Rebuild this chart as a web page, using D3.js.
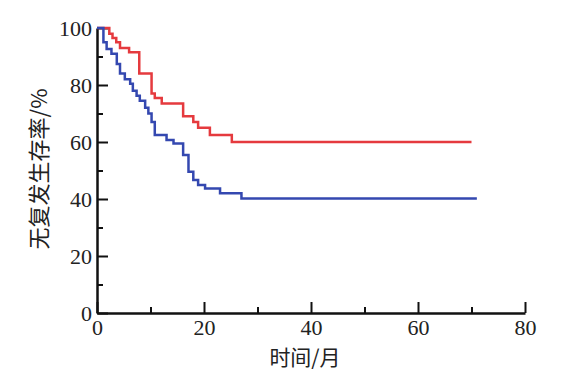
<!DOCTYPE html>
<html>
<head>
<meta charset="utf-8">
<script src="https://cdn.jsdelivr.net/npm/d3@7"></script>
<style>
  body { margin: 0; background: #fff; }
  .tick text { font-family: "Liberation Serif", "DejaVu Serif", serif; font-size: 22px; fill: #222; }
</style>
</head>
<body>
<div id="chart"></div>
<script>
// survival curves (time in months, survival %)
var redTime = [0, 2.3, 2.9, 3.6, 4.3, 6.0, 7.9, 10.2, 10.8, 12.1, 16.1, 18.0, 18.9, 21.1, 25.2, 70]
var redSurv = [100, 98, 96.5, 95, 93, 91.5, 84, 77, 75.4, 73.5, 69, 67, 65, 62.5, 60, 60]

var blueTime = [0, 1.2, 1.8, 2.7, 3.7, 4.3, 5.2, 6.2, 6.7, 7.4, 8, 9, 9.6, 10.2, 10.8, 13, 14.3, 16.1, 17.1, 18, 18.9, 20.2, 23, 27, 71]
var blueSurv = [100, 95, 92.6, 91, 87.4, 84, 82, 80.4, 78, 76.2, 74.5, 72, 70, 67, 62.5, 60.7, 59.5, 55.4, 49.6, 46.7, 44.9, 43.7, 42, 40.2, 40.2]

var xTicks = [0, 20, 40, 60, 80]
var yTicks = [0, 20, 40, 60, 80, 100]
var xLabel = "时间/月"
var yLabel = "无复发生存率/%"

var width = 572
    height = 375
    margin = {left: 97, right: 47, top: 28, bottom: 62}

var svg = d3.select("#chart")
  .append("svg")
    .attr("width", width)
    .attr("height", height)

var x = d3.scaleLinear().domain([0, 80]).range([margin.left, width - margin.right])
var y = d3.scaleLinear().domain([0, 100]).range([height - margin.bottom, margin.top])

// minor ticks first (shorter), then major axes on top
svg.append("g")
  .attr("transform", "translate(0," + y(0) + ")")
  .call(d3.axisBottom(x).tickValues([10, 30, 50, 70]).tickSize(-6).tickFormat(""))
  .call(g => g.select(".domain").remove())
  .selectAll("line").attr("stroke", "#111").attr("stroke-width", 2)

svg.append("g")
  .attr("transform", "translate(" + x(0) + ",0)")
  .call(d3.axisLeft(y).tickValues([10, 30, 50, 70, 90]).tickSize(-6).tickFormat(""))
  .call(g => g.select(".domain").remove())
  .selectAll("line").attr("stroke", "#111").attr("stroke-width", 2)

var xAxis = svg.append("g")
  .attr("transform", "translate(0," + y(0) + ")")
  .call(d3.axisBottom(x).tickValues(xTicks).tickSize(-11).tickSizeOuter(0).tickPadding(4))
xAxis.selectAll("text").attr("dy", "0.8em")

var yAxis = svg.append("g")
  .attr("transform", "translate(" + x(0) + ",0)")
  .call(d3.axisLeft(y).tickValues(yTicks).tickSize(-11).tickSizeOuter(0).tickPadding(5))

svg.selectAll(".domain").attr("stroke", "#111").attr("stroke-width", 2.5)
svg.selectAll(".tick line").attr("stroke", "#111").attr("stroke-width", 2)

// the step curves
var line = d3.line()
  .x(function(d) { return x(d[0]) })
  .y(function(d) { return y(d[1]) })
  .curve(d3.curveStepAfter)

svg.append("path")
  .datum(d3.zip(redTime, redSurv))
  .attr("d", line)
  .attr("fill", "none")
  .attr("stroke", "#e53a3e")
  .attr("stroke-width", 2.5)

svg.append("path")
  .datum(d3.zip(blueTime, blueSurv))
  .attr("d", line)
  .attr("fill", "none")
  .attr("stroke", "#3448b0")
  .attr("stroke-width", 2.5)

// axis titles
svg.append("text")
  .attr("x", 305)
  .attr("y", 365)
  .attr("text-anchor", "middle")
  .style("font-family", "'Noto Sans CJK SC', sans-serif")
  .style("font-size", "21px")
  .style("fill", "#222")
  .text(xLabel)

svg.append("text")
  .attr("transform", "translate(47,169) rotate(-90)")
  .attr("text-anchor", "middle")
  .style("font-family", "'Noto Sans CJK SC', sans-serif")
  .style("font-size", "22px")
  .style("fill", "#222")
  .text(yLabel)
</script>
</body>
</html>
